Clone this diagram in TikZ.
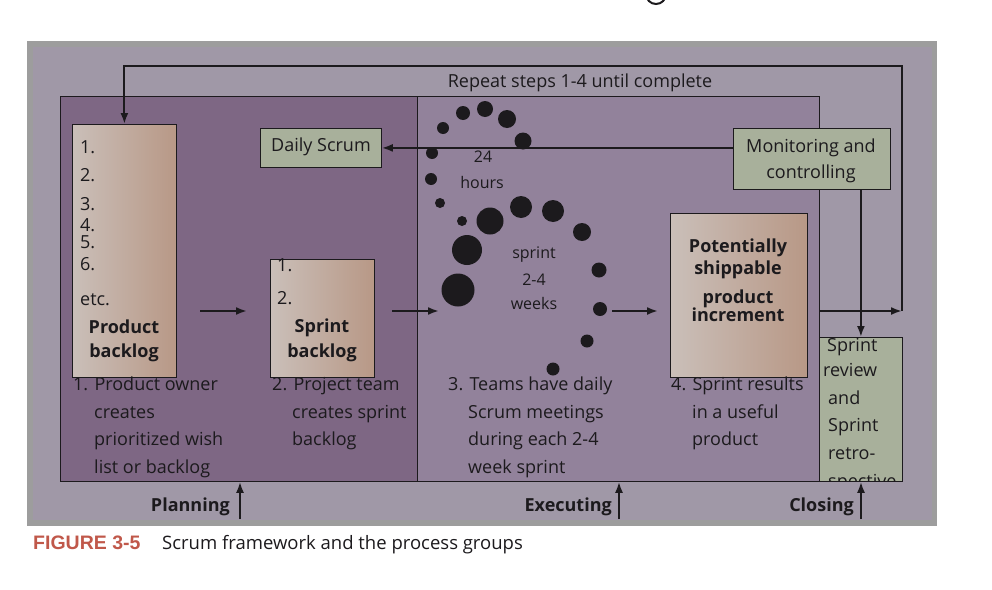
\documentclass[tikz,border=0pt]{standalone}
\usepackage{fontspec}
\setmainfont{Open Sans}
\newfontfamily\capfont{Liberation Sans}
\usetikzlibrary{arrows.meta, positioning, calc}

\definecolor{framegray}{HTML}{9D9D9D}
\definecolor{framefill}{HTML}{A098A7}
\definecolor{planfill}{HTML}{7E6784}
\definecolor{execfill}{HTML}{92829B}
\definecolor{sage}{HTML}{A8B09B}
\definecolor{tanleft}{HTML}{CABFB9}
\definecolor{tanright}{HTML}{B89886}
\definecolor{ink}{HTML}{1C1A1D}
\definecolor{figred}{HTML}{C0584A}

\begin{document}
\begin{tikzpicture}[x=1pt, y=-1pt,
    every node/.style={font=\fontsize{18}{22}\selectfont, text=ink, inner sep=0pt},
    region/.style={draw=ink, line width=0.8pt, anchor=north west},
    sagebox/.style={draw=ink, line width=0.8pt, fill=sage, anchor=north west},
    tanbox/.style={draw=ink, line width=0.8pt, left color=tanleft, right color=tanright, anchor=north west},
    label/.style={anchor=base west},
    heading/.style={anchor=base, font=\fontsize{18}{22}\selectfont\bfseries},
    phase/.style={anchor=base east, font=\fontsize{18}{22}\selectfont\bfseries},
    arrow/.style={-{Latex[length=11pt,width=8pt]}, line width=2pt, draw=ink}
]
\useasboundingbox (0,0) rectangle (992,589);

% outer frame
\fill[framegray] (27,41) rectangle (937,526);
\fill[framefill] (33,47) rectangle (932,520);
\draw[line width=2pt, ink] (656,-6) circle[radius=10pt];

% process groups
\node[region, fill=planfill, minimum width=357pt, minimum height=385pt] (plan) at (60,96) {};
\node[region, fill=execfill, minimum width=402pt, minimum height=385pt] (exec) at (417,96) {};
\node[sagebox, minimum width=83pt, minimum height=144pt] (review) at (819,337) {};
\begin{scope}
  \clip (review.north west) rectangle (review.south east);
  \foreach \t/\x/\y [count=\i] in {Sprint/827/351, review/823/376, and/828/404,
      Sprint/828/431, retro-/828/459, spective/828/487}
    \node[label] (rv\i) at (\x,\y) {\t};
\end{scope}

% boxes
\node[tanbox, minimum width=104pt, minimum height=253pt] (pbox) at (72,124) {};
\node[tanbox, minimum width=104pt, minimum height=118pt] (sbox) at (270,259) {};
\node[tanbox, minimum width=137pt, minimum height=164pt] (ibox) at (670,213) {};
\node[sagebox, minimum width=121pt, minimum height=39pt] (daily) at (260,128) {};
\node[anchor=base] (dailytxt) at (321,151) {Daily Scrum};
\node[sagebox, minimum width=157pt, minimum height=61pt] (mon) at (733,128) {};
\node[anchor=base] (mon1) at (811,152) {Monitoring and};
\node[anchor=base] (mon2) at (811,178) {controlling};

% backlog items
\foreach \t/\y [count=\i] in {1./153, 2./181, 3./210, 4./231, 5./248, 6./270, etc./305}
  \node[label] (item\i) at (80,\y) {\t};
\node[heading] (pb1) at (124,333) {Product};
\node[heading] (pb2) at (124,357) {backlog};
\node[label] (sitem1) at (277,271) {1.};
\node[label] (sitem2) at (277,304) {2.};
\node[heading] (sb1) at (322,332) {Sprint};
\node[heading] (sb2) at (322,357) {backlog};
\node[heading] (ib1) at (738,252) {Potentially};
\node[heading] (ib2) at (738,274) {shippable};
\node[heading] (ib3) at (738,303) {product};
\node[heading] (ib4) at (738,321) {increment};

% sprint cycle
\foreach \x/\y/\r in {443/128/6, 463/113/7, 485/109/8, 507/119/9, 523/141/8.5,
    432/153/6, 431/179/6, 440/203/5, 462/221/5, 490/221/13.5, 521/207/11,
    553/211/11, 582/232/9, 599/270/7.5, 600/309/7, 587/341/6.5, 553/369/6.5,
    467/250/15, 458/290/16.5}
  \fill[ink] (\x,\y) circle[radius=\r pt];
\node[anchor=base, font=\fontsize{16}{20}\selectfont] (h24) at (483,162) {24};
\node[anchor=base, font=\fontsize{16}{20}\selectfont] (hours) at (482,188) {hours};
\node[anchor=base, font=\fontsize{16}{20}\selectfont] (sp1) at (534,258) {sprint};
\node[anchor=base, font=\fontsize{16}{20}\selectfont] (sp2) at (534,285) {2-4};
\node[anchor=base, font=\fontsize{16}{20}\selectfont] (sp3) at (534,309) {weeks};

% step texts
\foreach \t/\y [count=\i] in {1. Product owner/390, creates/418, prioritized wish/445, list or backlog/473}
  \node[label] (st1-\i) at (\ifnum\i=1 73\else 94\fi,\y) {\t};
\foreach \t/\y [count=\i] in {2. Project team/390, creates sprint/418, backlog/445}
  \node[label] (st2-\i) at (\ifnum\i=1 272\else 292\fi,\y) {\t};
\foreach \t/\y [count=\i] in {3. Teams have daily/390, Scrum meetings/418, during each 2-4/445, week sprint/473}
  \node[label] (st3-\i) at (\ifnum\i=1 448\else 468\fi,\y) {\t};
\foreach \t/\y [count=\i] in {4. Sprint results/390, in a useful/418, product/445}
  \node[label] (st4-\i) at (\ifnum\i=1 671\else 692\fi,\y) {\t};

% flow arrows
\coordinate (a1) at (200,311);
\coordinate (a2) at (392,311);
\coordinate (a3) at (612,311);
\draw[arrow] (a1) -- ($(a1 -| sbox.west)+(-23,0)$);
\draw[arrow] (a2) -- ($(a2 -| exec.west)+(22,0)$);
\draw[arrow] (a3) -- ($(a3 -| ibox.west)+(-12,0)$);

% repeat loop
\coordinate (loopR) at (902,311);
\coordinate (loopT) at (902,66);
\draw[arrow] (exec.east |- loopR) -- (loopR);
\draw[arrow] (loopR) -- (loopT) -- (pbox.north |- loopT) -- (pbox.north);
\node[anchor=base] (repeat) at (580,87) {Repeat steps 1-4 until complete};
\draw[arrow] (mon.west |- daily.east) -- (daily.east);
\draw[arrow] (mon.south -| review.north) -- (review.north);

% process group labels
\node[phase] (planlbl) at (230,511) {Planning};
\node[phase] (execlbl) at (612,511) {Executing};
\node[phase] (closelbl) at (854,511) {Closing};
\coordinate (pa) at (240,519);
\coordinate (ea) at (619,519);
\coordinate (ca) at (861,519);
\draw[arrow] (pa) -- (pa |- plan.south);
\draw[arrow] (ea) -- (ea |- exec.south);
\draw[arrow] (ca) -- (ca |- review.south);

% caption
\node[anchor=base west, text=figred, font=\capfont\fontsize{19.5}{22}\selectfont\bfseries] (fig) at (33,549) {FIGURE 3-5};
\node[anchor=base west, font=\fontsize{18.5}{22}\selectfont] (figtxt) at (162,549) {Scrum framework and the process groups};
\end{tikzpicture}
\end{document}
